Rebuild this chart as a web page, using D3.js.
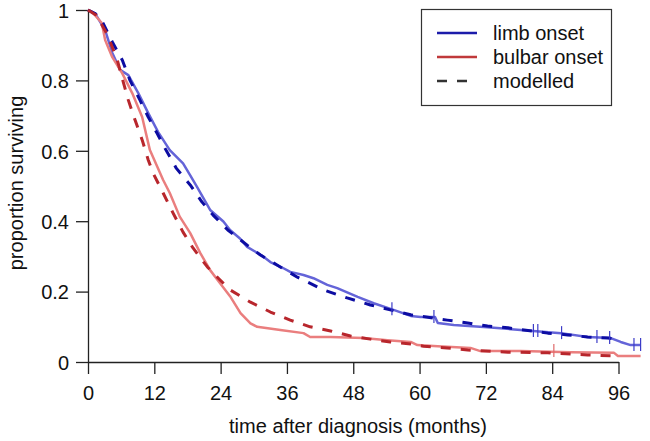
<!DOCTYPE html>
<html>
<head>
<meta charset="utf-8">
<script src="https://cdn.jsdelivr.net/npm/d3@7"></script>
<style>
  body { margin: 0; background: #fff; }
  svg text { font-family: "Liberation Sans", Arial, sans-serif; fill: #111; }
</style>
</head>
<body>
<svg id="viz_area" width="650" height="441"></svg>
<script>
var xTicks = [0, 12, 24, 36, 48, 60, 72, 84, 96];
var yTicks = [0, 0.2, 0.4, 0.6, 0.8, 1];
var yTickLabels = ["0", "0.2", "0.4", "0.6", "0.8", "1"];

// observed (Kaplan-Meier) curves, [months, proportion]
var limbObserved = [[0,1],[1.3,0.99],[3.1,0.943],[4.4,0.878],[5.8,0.83],[7.3,0.815],[9.1,0.764],[10.9,0.707],
  [12.7,0.653],[14.8,0.602],[17.2,0.564],[18.5,0.53],[19.7,0.498],[22.1,0.432],[24.5,0.399],[25.7,0.375],
  [27.5,0.351],[28.8,0.327],[31.7,0.30],[33,0.284],[35.3,0.267],[36.6,0.256],[39,0.247],[40.8,0.238],
  [43.3,0.219],[45.1,0.21],[48.8,0.185],[51.7,0.167],[55.3,0.148],[58.4,0.131],[60.2,0.128],[62.8,0.128],
  [63.3,0.111],[66.2,0.105],[72.3,0.099],[78.3,0.091],[85.6,0.082],[90.4,0.071],[94.6,0.068],[96.4,0.057],
  [98.2,0.048],[100,0.048]];
var bulbarObserved = [[0,1],[0.7,0.995],[2.5,0.963],[3.1,0.915],[4.4,0.866],[6.2,0.82],[8.0,0.764],[9.8,0.696],
  [11.2,0.602],[13.6,0.517],[14.8,0.48],[16.6,0.413],[18.5,0.366],[20.3,0.31],[22.1,0.261],[23.9,0.224],
  [25.7,0.187],[27.6,0.139],[29.4,0.11],[30.6,0.1],[34.8,0.091],[39,0.082],[40.2,0.071],[43.9,0.071],
  [49.8,0.068],[54.2,0.062],[58.4,0.057],[59.6,0.048],[63.3,0.045],[69.2,0.04],[71,0.031],[78.3,0.031],
  [87.4,0.028],[95.2,0.026],[95.9,0.017],[100,0.017]];

// modelled curves
var limbModel = [[0,1],[1.3,0.99],[2.7,0.963],[4.5,0.906],[6.2,0.858],[7.6,0.80],[9.4,0.744],[10.9,0.696],
  [12.5,0.65],[13.9,0.608],[16,0.55],[18.5,0.503],[20.6,0.455],[22.6,0.418],[25.3,0.375],[28.8,0.332],
  [31.2,0.304],[34.8,0.27],[37.9,0.241],[42.6,0.205],[46.9,0.182],[51.1,0.162],[54.7,0.148],[58.4,0.134],
  [65,0.119],[68.7,0.111],[72.3,0.102],[76,0.097],[83.2,0.082],[86.8,0.077],[90.4,0.071],[94.1,0.068],[96,0.064]];
var bulbarModel = [[0,1],[1.5,0.985],[3.5,0.93],[5.3,0.858],[6.3,0.80],[7.3,0.744],[8.5,0.688],[9.8,0.631],
  [10.9,0.574],[11.8,0.536],[13.6,0.48],[15.4,0.423],[17.2,0.369],[19,0.324],[21.6,0.27],[23.9,0.233],
  [25.7,0.205],[29.4,0.17],[33,0.142],[36.6,0.119],[40.2,0.1],[43.9,0.088],[47.5,0.074],[51.1,0.065],
  [54.7,0.057],[58.4,0.051],[60.7,0.045],[65,0.04],[68.7,0.034],[76,0.028],[83.2,0.026],[90.4,0.02],[96,0.017]];

// censoring marks
var limbCensored = [[55.0,0.15],[62.6,0.128],[80.6,0.088],[81.4,0.088],[85.7,0.082],[92.1,0.071],[94.4,0.068],[98.8,0.048],[100,0.048]];
var bulbarCensored = [[84.3,0.031]];

var legendLabels = ["limb onset", "bulbar onset", "modelled"];
var legendColors = ["#1c1caa", "#c0393b", "#333333"];

var svg = d3.select("#viz_area");
var x = d3.scaleLinear().domain([0, 96]).range([88, 618.5]);
var y = d3.scaleLinear().domain([0, 1]).range([362, 10]);

var xAxis = svg.append("g")
  .attr("transform", "translate(0,362)")
  .call(d3.axisBottom(x).tickValues(xTicks).tickSize(12).tickSizeOuter(0).tickPadding(12));
var yAxis = svg.append("g")
  .attr("transform", "translate(88,0)")
  .call(d3.axisLeft(y).tickValues(yTicks).tickSize(12).tickSizeOuter(0).tickPadding(7)
    .tickFormat(function(d, i){ return yTickLabels[i]; }));
[xAxis, yAxis].forEach(function(g){
  g.selectAll("path, line").attr("stroke", "#222").attr("stroke-width", 1.3);
  g.selectAll("text").style("font-size", "20px").attr("fill", "#111");
});
yAxis.selectAll("text").attr("dy", "0.36em");

var line = d3.line().x(function(d){ return x(d[0]); }).y(function(d){ return y(d[1]); });

function drawCurve(data, color, width, dash) {
  svg.append("path")
    .datum(data)
    .attr("d", line)
    .attr("fill", "none")
    .attr("stroke", color)
    .attr("stroke-width", width)
    .attr("stroke-linejoin", "round")
    .attr("stroke-dasharray", dash);
}

drawCurve(limbObserved, "#6464d8", 2.5, null);
drawCurve(bulbarObserved, "#ea7e7e", 2.5, null);
drawCurve(limbModel, "#0c0ca2", 3, "10,10");
drawCurve(bulbarModel, "#b8262c", 3, "10,10");

function drawCensor(data, color) {
  svg.selectAll(null)
    .data(data)
    .enter()
    .append("line")
    .attr("x1", function(d){ return x(d[0]); })
    .attr("x2", function(d){ return x(d[0]); })
    .attr("y1", function(d){ return y(d[1]) - 7; })
    .attr("y2", function(d){ return y(d[1]) + 6; })
    .attr("stroke", color)
    .attr("stroke-width", 1.2);
}
drawCensor(limbCensored, "#3c3cc8");
drawCensor(bulbarCensored, "#e06a6a");

// axis titles
svg.append("text")
  .attr("x", 358)
  .attr("y", 433)
  .attr("text-anchor", "middle")
  .style("font-size", "20px")
  .text("time after diagnosis (months)");
svg.append("text")
  .attr("transform", "translate(23,183) rotate(-90)")
  .attr("text-anchor", "middle")
  .style("font-size", "20px")
  .text("proportion surviving");

// legend
svg.append("rect")
  .attr("x", 421.5)
  .attr("y", 9.5)
  .attr("width", 190)
  .attr("height", 96)
  .attr("fill", "white")
  .attr("stroke", "#333")
  .attr("stroke-width", 1.2);
for (let i = 0; i < legendLabels.length; i++){
  svg.append("line")
    .attr("x1", 437)
    .attr("x2", 477)
    .attr("y1", 33 + i*24)
    .attr("y2", 33 + i*24)
    .attr("stroke", legendColors[i])
    .attr("stroke-width", 2.5)
    .attr("stroke-dasharray", i == 2 ? "10,10" : null);
  svg.append("text")
    .attr("x", 493)
    .attr("y", 33 + i*24 + 7)
    .style("font-size", "20px")
    .text(legendLabels[i]);
}
</script>
</body>
</html>
